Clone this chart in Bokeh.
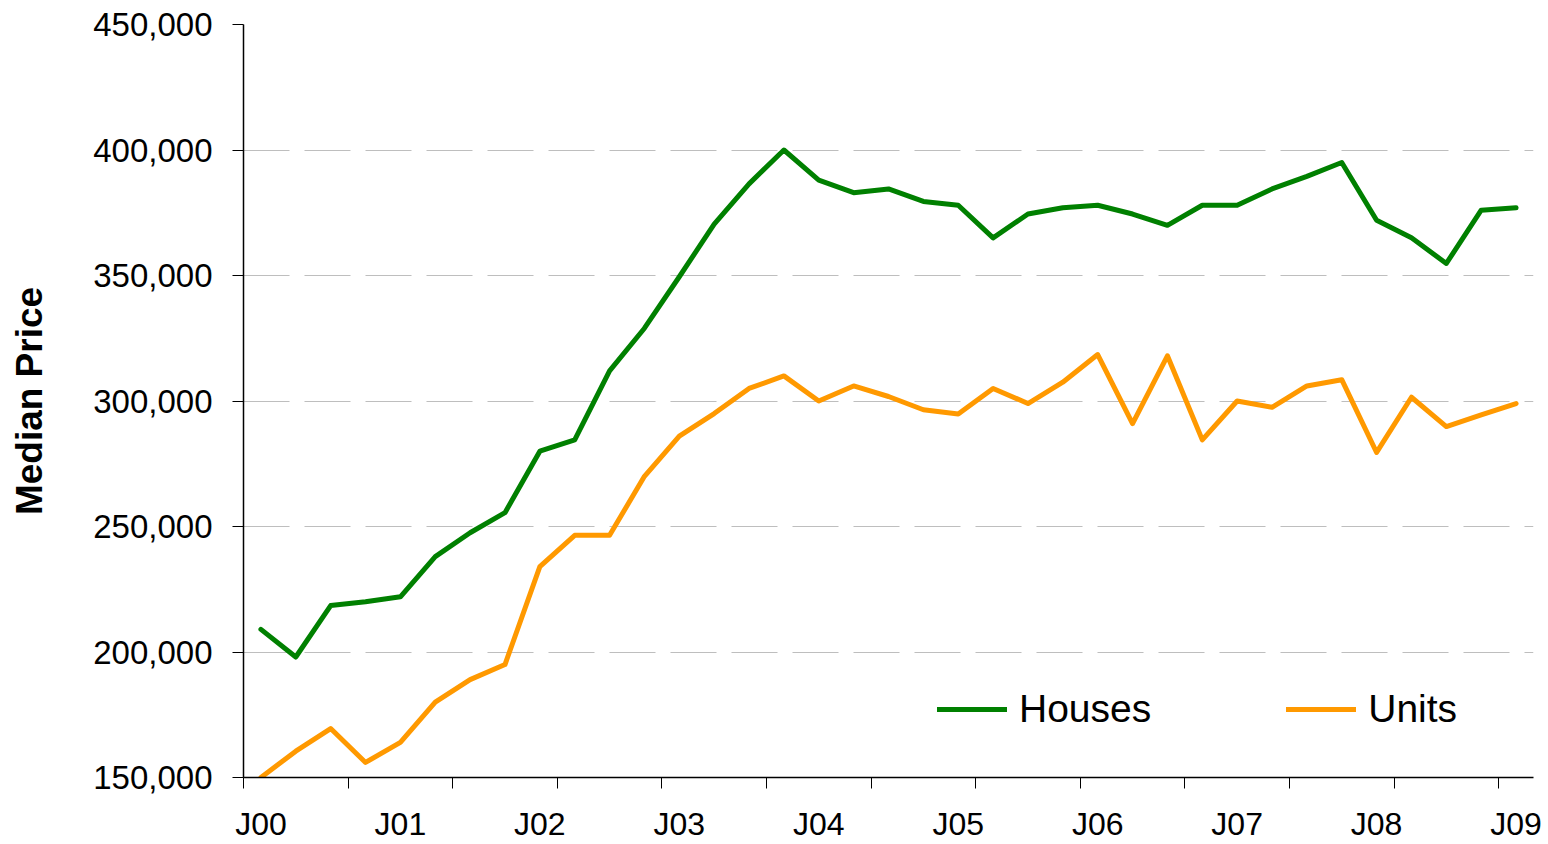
from bokeh.plotting import figure
from bokeh.models import (Range1d, FixedTicker, NumeralTickFormatter, Legend,
                          LegendItem, ColumnDataSource)
from bokeh.embed import file_html
from bokeh.resources import INLINE

# ---- data (quarterly median prices, Jan 2000 .. Jan 2009) ----
year_labels = ["J00", "J01", "J02", "J03", "J04", "J05", "J06", "J07", "J08", "J09"]
houses = [209000, 198000, 218500, 220000, 222000, 238000, 247500, 255500, 280000,
          284500, 312000, 329000, 349500, 370500, 386500, 400000, 388000, 383000,
          384500, 379500, 378000, 365000, 374500, 377000, 378000, 374500, 370000,
          378000, 378000, 384500, 389500, 395000, 372000, 365000, 354800, 376000,
          377000]
units = [150000, 160500, 169500, 156000, 164000, 180000, 189000, 195000, 234000,
         246500, 246500, 270000, 286000, 295000, 305000, 310000, 300000, 306000,
         301800, 296500, 294800, 305000, 299000, 307500, 318500, 291000, 318000,
         284500, 300000, 297500, 306000, 308500, 279500, 301500, 289800, 294500,
         299000]
y_ticks = [150000, 200000, 250000, 300000, 350000, 400000, 450000]

n = len(houses)
idx = list(range(n))
src = ColumnDataSource(dict(x=idx, houses=houses, units=units))

FONT = "Liberation Sans"
GREEN = "#008000"
ORANGE = "#FF9900"

p = figure(width=1548, height=844, output_backend="svg", toolbar_location=None,
           x_range=Range1d(-0.5, n - 0.5), y_range=Range1d(150000, 450000),
           min_border_left=243, min_border_right=15, min_border_top=24,
           min_border_bottom=67)
p.outline_line_color = None
p.background_fill_color = "white"
p.border_fill_color = "white"

# y axis
ya = p.yaxis[0]
ya.ticker = FixedTicker(ticks=y_ticks)
ya.formatter = NumeralTickFormatter(format="0,0")
ya.major_label_text_font = FONT
ya.major_label_text_font_size = "33px"
ya.major_label_text_color = "black"
ya.major_tick_out = 11
ya.major_tick_in = 0
ya.minor_tick_line_color = None
ya.major_tick_line_color = "black"
ya.axis_line_color = "black"
ya.axis_line_width = 1.5
ya.major_label_standoff = 20
ya.axis_label = "Median Price"
ya.axis_label_text_font = FONT
ya.axis_label_text_font_style = "bold"
ya.axis_label_text_font_size = "37px"
ya.axis_label_text_color = "black"
ya.axis_label_standoff = 40

# x axis: labels every 4 quarters, tick marks at every 3rd category boundary
xa = p.xaxis[0]
label_pos = [i * 4 for i in range(len(year_labels))]
bounds = [k - 0.5 for k in range(0, n, 3)]
xa.ticker = FixedTicker(ticks=label_pos, minor_ticks=bounds)
xa.major_label_overrides = {pos: lab for pos, lab in zip(label_pos, year_labels)}
xa.major_tick_line_color = None
xa.major_tick_out = 0
xa.major_tick_in = 0
xa.minor_tick_line_color = "black"
xa.minor_tick_out = 11
xa.minor_tick_in = 0
xa.axis_line_color = "black"
xa.axis_line_width = 1.5
xa.major_label_text_font = FONT
xa.major_label_text_font_size = "32px"
xa.major_label_text_color = "black"
xa.major_label_standoff = 17

p.xgrid.grid_line_color = None
p.ygrid.ticker = FixedTicker(ticks=y_ticks)
p.ygrid.grid_line_color = "#BEBEBE"
p.ygrid.grid_line_width = 1.2
p.ygrid.grid_line_dash = "46 15"

r1 = p.line("x", "houses", source=src, line_color=GREEN, line_width=5,
            line_join="round", line_cap="round")
r2 = p.line("x", "units", source=src, line_color=ORANGE, line_width=5,
            line_join="round", line_cap="round")

legend = Legend(items=[LegendItem(label="Houses", renderers=[r1]),
                       LegendItem(label="Units", renderers=[r2])],
                orientation="horizontal", location=(694, 46),
                glyph_width=70, glyph_height=40, label_standoff=12, spacing=135,
                padding=0, margin=0, border_line_color=None,
                background_fill_alpha=0,
                label_text_font=FONT, label_text_font_size="39px",
                label_text_color="black", label_height=40)
p.add_layout(legend, "center")

open("out.html", "w").write(file_html(p, INLINE))
